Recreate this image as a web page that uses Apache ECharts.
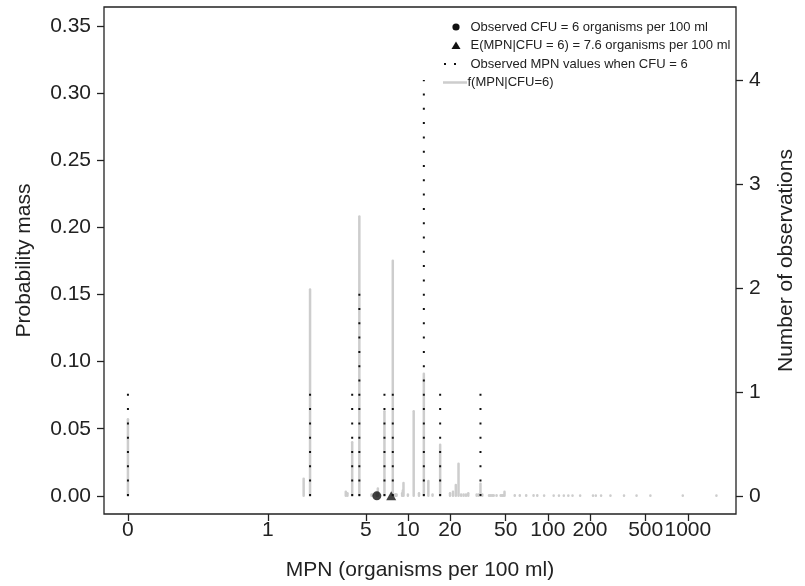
<!DOCTYPE html>
<html><head><meta charset="utf-8">
<script src="https://cdn.jsdelivr.net/npm/echarts@6/dist/echarts.min.js"></script>
<style>html,body{margin:0;padding:0;background:#fff}#c{width:805px;height:586px}</style>
</head><body><div id="c"></div>
<script>
// MPN values (5-tube table) and the probability mass f(MPN|CFU=6)
const mpnValues = [0, 1.8, 2.0, 3.6, 3.7, 4.0, 4.5, 5.5, 5.6, 6.0, 6.1, 6.8, 7.8, 8.1, 8.2, 8.3, 9.1, 9.2, 9.3, 10, 11, 12, 13, 14, 15, 17, 20, 21, 22, 23, 24, 25, 26, 27, 31, 32, 33, 34, 38, 39, 40, 41, 43, 46, 47, 48, 49, 58, 63, 70, 79, 84, 94, 110, 120, 130, 140, 150, 170, 210, 220, 240, 280, 350, 430, 540, 920, 1600];
const massValues = [0.057, 0.0128, 0.1537, 0.003, 0.002, 0.040, 0.208, 0.001, 0.001, 0.002, 0.0055, 0.063, 0.175, 0.001, 0.001, 0.001, 0.002, 0.004, 0.0095, 0.001, 0.063, 0.002, 0.091, 0.011, 0.001, 0.038, 0.002, 0.003, 0.008, 0.024, 0.001, 0.001, 0.001, 0.002, 0.001, 0.001, 0.009, 0.001, 0.0005, 0.0005, 0.0005, 0.0005, 0.0005, 0.0005, 0.0005, 0.0005, 0.003, 0.0005, 0.0005, 0.0005, 0.0005, 0.0005, 0.0003, 0.0003, 0.0003, 0.0003, 0.0003, 0.0003, 0.0003, 0.0003, 0.0003, 0.0003, 0.0003, 0.0003, 0.0003, 0.0003, 0.0003, 0.0003];
// Observed MPN values when CFU = 6 and their counts
const obsMpn = [0, 2.0, 4.0, 4.5, 6.8, 7.8, 13, 17, 33];
const obsCount = [1, 1, 1, 2, 1, 1, 4, 1, 1];
const observedCfu = [6];
const expectedMpn = [7.6];
const xTickValues = [0, 1, 5, 10, 20, 50, 100, 200, 500, 1000];
const xTickLabels = ['0', '1', '5', '10', '20', '50', '100', '200', '500', '1000'];
const yLeftTicks = [0, 0.05, 0.10, 0.15, 0.20, 0.25, 0.30, 0.35];
const yRightTicks = [0, 1, 2, 3, 4];
const legendLabels = ['Observed CFU = 6 organisms per 100 ml', 'E(MPN|CFU = 6) = 7.6 organisms per 100 ml', 'Observed MPN values when CFU = 6', 'f(MPN|CFU=6)'];

const ZERO_AT = 0.1;
function tx(v) { return Math.log10(v > 0 ? v : ZERO_AT); }

const FONT = '"Liberation Sans", Arial, Helvetica, sans-serif';
const TXT = '#222';
const GREY = '#cdcdcd';

const chart = echarts.init(document.getElementById('c'), null, {renderer: 'canvas'});

const xCustom = xTickValues.map(tx);
function xLabel(val) {
  for (let i = 0; i < xCustom.length; i++) if (Math.abs(xCustom[i] - val) < 1e-6) return xTickLabels[i];
  return '';
}

function stickRenderer(color, width, dash, cap) {
  return function (params, api) {
    const x = api.value(0), y = api.value(1);
    const p0 = api.coord([x, 0]);
    const p1 = api.coord([x, y]);
    return {
      type: 'line',
      shape: {x1: p0[0], y1: p0[1], x2: p1[0], y2: p1[1]},
      style: {stroke: color, lineWidth: width, lineDash: dash, lineCap: cap, fill: null}
    };
  };
}

const LX = 456, LT = 27, LG = 18.5;
const legendGraphic = [
  {type: 'circle', shape: {cx: LX, cy: LT, r: 3.6}, style: {fill: '#111'}},
  {type: 'polygon', shape: {points: [[LX, LT + LG - 4], [LX + 4.5, LT + LG + 3.5], [LX - 4.5, LT + LG + 3.5]]}, style: {fill: '#111'}},
  {type: 'rect', shape: {x: 444, y: LT + 2 * LG - 1, width: 2, height: 2}, style: {fill: '#111'}},
  {type: 'rect', shape: {x: 454, y: LT + 2 * LG - 1, width: 2, height: 2}, style: {fill: '#111'}},
  {type: 'line', shape: {x1: 443, y1: LT + 3 * LG, x2: 467, y2: LT + 3 * LG}, style: {stroke: GREY, lineWidth: 2.5}},
];
legendLabels.forEach((t, i) => {
  legendGraphic.push({
    type: 'text', x: i === 3 ? 467.5 : 470.5, y: LT + i * LG,
    style: {text: t, fontSize: 13, fontFamily: FONT, fill: TXT, verticalAlign: 'middle', align: 'left'}
  });
});

chart.setOption({
  animation: false,
  backgroundColor: '#fff',
  grid: {left: 104, right: 59, top: 7, bottom: 67, show: true, borderColor: '#222', borderWidth: 1.3, backgroundColor: 'transparent', containLabel: false},
  xAxis: {
    type: 'value', min: -1.171, max: 3.344, position: 'bottom',
    name: 'MPN (organisms per 100 ml)', nameLocation: 'middle', nameGap: 46,
    nameTextStyle: {fontSize: 21, fontFamily: FONT, color: TXT},
    axisLine: {show: false, onZero: false},
    axisTick: {show: true, length: 7, lineStyle: {color: '#222', width: 1.3}, customValues: xCustom},
    axisLabel: {show: true, fontSize: 21, fontFamily: FONT, color: TXT, margin: 6, customValues: xCustom, formatter: xLabel, hideOverlap: false},
    splitLine: {show: false}
  },
  yAxis: [
    {
      type: 'value', min: -0.0135, max: 0.364, position: 'left',
      name: 'Probability mass', nameLocation: 'middle', nameGap: 69, nameRotate: 90,
      nameTextStyle: {fontSize: 21, fontFamily: FONT, color: TXT},
      axisLine: {show: false, onZero: false},
      axisTick: {show: true, length: 7, lineStyle: {color: '#222', width: 1.3}, customValues: yLeftTicks},
      axisLabel: {show: true, fontSize: 21, fontFamily: FONT, color: TXT, margin: 13, customValues: yLeftTicks, formatter: v => v.toFixed(2)},
      splitLine: {show: false}
    },
    {
      type: 'value', min: -0.1743, max: 4.702, position: 'right',
      name: 'Number of observations', nameLocation: 'middle', nameGap: 40, nameRotate: 90,
      nameTextStyle: {fontSize: 21, fontFamily: FONT, color: TXT},
      axisLine: {show: false, onZero: false},
      axisTick: {show: true, length: 7, lineStyle: {color: '#222', width: 1.3}, customValues: yRightTicks},
      axisLabel: {show: true, fontSize: 21, fontFamily: FONT, color: TXT, margin: 13, customValues: yRightTicks, formatter: v => String(Math.round(v))},
      splitLine: {show: false}
    }
  ],
  series: [
    {
      name: legendLabels[3], type: 'custom', xAxisIndex: 0, yAxisIndex: 0,
      renderItem: stickRenderer(GREY, 2.5, null, 'round'),
      data: mpnValues.map((m, i) => [tx(m), massValues[i]]), z: 2
    },
    {
      name: legendLabels[2], type: 'custom', xAxisIndex: 0, yAxisIndex: 1,
      renderItem: stickRenderer('#111', 2, [2, 12.3], 'butt'),
      data: obsMpn.map((m, i) => [tx(m), obsCount[i]]), z: 3
    },
    {
      name: legendLabels[0], type: 'scatter', yAxisIndex: 0, symbol: 'circle', symbolSize: 9,
      itemStyle: {color: '#111'}, data: observedCfu.map(m => [tx(m), 0]), z: 4
    },
    {
      name: legendLabels[1], type: 'scatter', yAxisIndex: 0, symbol: 'triangle', symbolSize: [10, 9],
      itemStyle: {color: '#111'}, data: expectedMpn.map(m => [tx(m), 0]), z: 4
    }
  ],
  graphic: legendGraphic
});
</script>
</body></html>
